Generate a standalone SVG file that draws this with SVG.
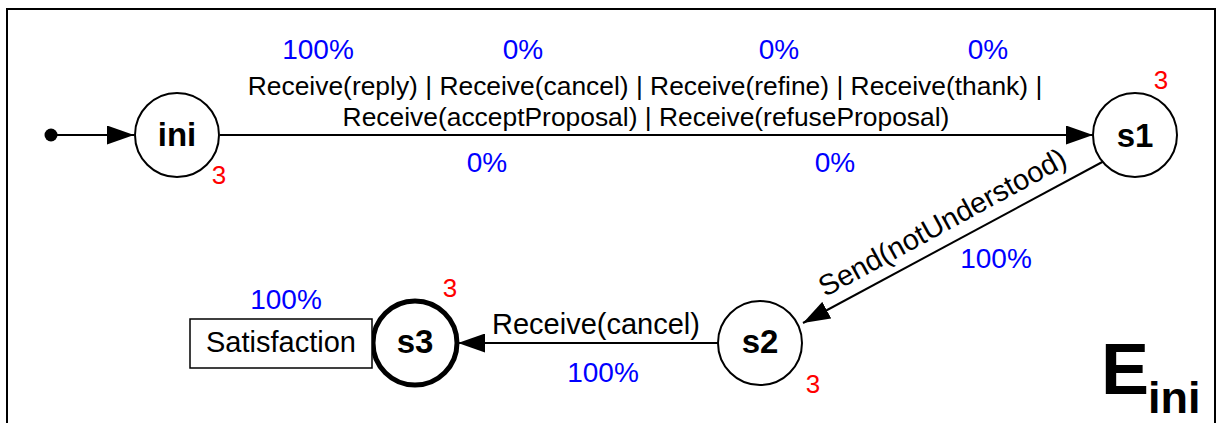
<svg xmlns="http://www.w3.org/2000/svg" width="1222" height="423" viewBox="0 0 1222 423">
<style>
.st{fill:#fff;stroke:#000;stroke-width:2}
.fin{fill:#fff;stroke:#000;stroke-width:5}
.nm{font-family:"Liberation Sans",Arial,sans-serif;font-weight:bold;font-size:33px;text-anchor:middle}
.lb{font-family:"Liberation Sans",Arial,sans-serif;font-size:26.4px;text-anchor:middle;fill:#000}
.lb2{font-family:"Liberation Sans",Arial,sans-serif;font-size:29px;text-anchor:middle;fill:#000}
.pc{font-family:"Liberation Sans",Arial,sans-serif;font-size:28px;text-anchor:middle;fill:#0000ff}
.rd{font-family:"Liberation Sans",Arial,sans-serif;font-size:26px;text-anchor:middle;fill:#ff0000}
.ed{stroke:#000;stroke-width:2;fill:none}
</style>
<defs>
<marker id="ah" markerWidth="27" markerHeight="19" refX="27" refY="9.5" orient="auto" markerUnits="userSpaceOnUse">
<path d="M0,0 L27,9.5 L0,19 Z" fill="#000"/>
</marker>
</defs>
<rect x="7" y="9" width="1208" height="430" fill="#fff" stroke="#000" stroke-width="2"/>
<g id="connectors">
<circle cx="51" cy="135" r="6.5" fill="#000"/>
<line class="ed" x1="51" y1="135" x2="134" y2="135" marker-end="url(#ah)"/>
<line class="ed" x1="220" y1="135" x2="1093" y2="135" marker-end="url(#ah)"/>
<line class="ed" x1="1106" y1="160" x2="803" y2="323" marker-end="url(#ah)"/>
<line class="ed" x1="718" y1="343" x2="458" y2="343" marker-end="url(#ah)"/>
<text class="pc" x="318" y="59">100%</text>
<text class="pc" x="523" y="59">0%</text>
<text class="pc" x="779" y="59">0%</text>
<text class="pc" x="988" y="59">0%</text>
<text class="lb" x="645" y="95">Receive(reply) | Receive(cancel) | Receive(refine) | Receive(thank) |</text>
<text class="lb" x="646" y="126">Receive(acceptProposal) | Receive(refuseProposal)</text>
<text class="pc" x="487" y="172">0%</text>
<text class="pc" x="835" y="172">0%</text>
<text class="lb2" transform="translate(947,231) rotate(-28.6)">Send(notUnderstood)</text>
<text class="pc" x="996" y="268">100%</text>
<text class="lb2" x="596" y="334">Receive(cancel)</text>
<text class="pc" x="603" y="382">100%</text>
</g>
<g id="ini">
<circle class="st" cx="177" cy="135" r="42"/>
<text class="nm" x="177" y="146">ini</text>
<text class="rd" x="219" y="184">3</text>
</g>
<g id="s1">
<circle class="st" cx="1135" cy="135" r="42"/>
<text class="nm" x="1135" y="147">s1</text>
<text class="rd" x="1161" y="89">3</text>
</g>
<g id="s2">
<circle class="st" cx="760" cy="343" r="42"/>
<text class="nm" x="760" y="353">s2</text>
<text class="rd" x="813" y="393">3</text>
</g>
<g id="s3">
<circle class="fin" cx="415" cy="343" r="42"/>
<text class="nm" x="415" y="353">s3</text>
<text class="rd" x="450" y="297">3</text>
</g>
<g id="satisfaction">
<rect x="190" y="319" width="182" height="49" fill="#fff" stroke="#000" stroke-width="1.5"/>
<text class="lb2" x="281" y="352">Satisfaction</text>
<text class="pc" x="286" y="309">100%</text>
</g>
<g id="title">
<text font-family="Liberation Sans,Arial,sans-serif" font-weight="bold" font-size="72" x="1101" y="394">E</text>
<text font-family="Liberation Sans,Arial,sans-serif" font-weight="bold" font-size="45" x="1148" y="413">ini</text>
</g>
</svg>
